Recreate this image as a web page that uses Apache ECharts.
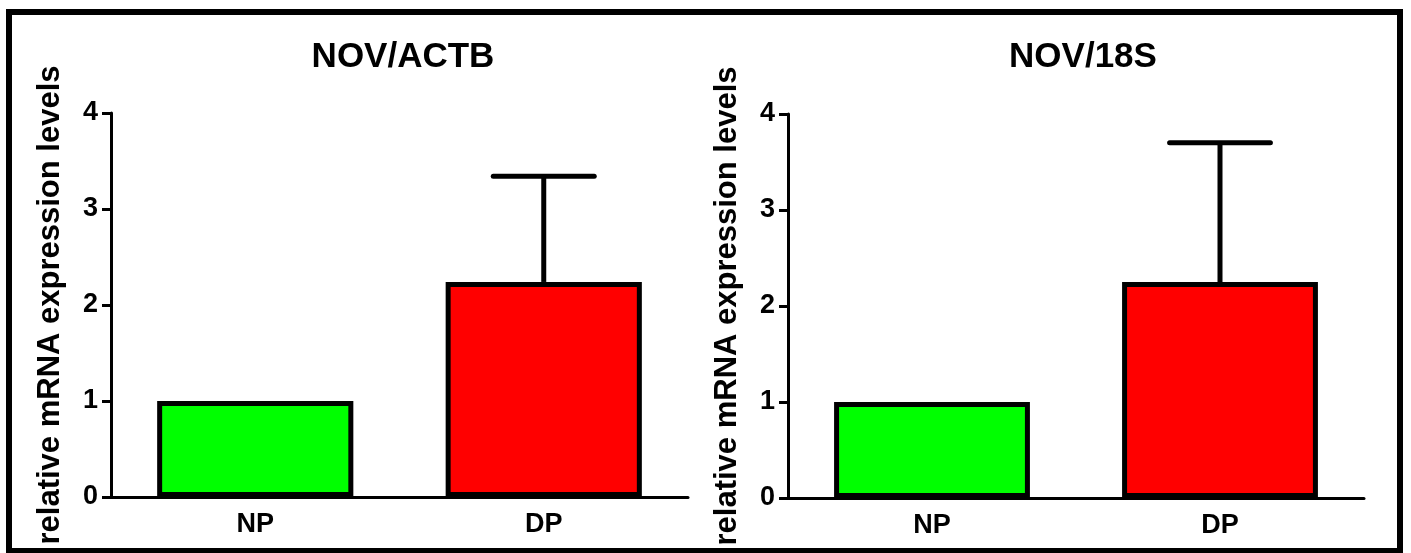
<!DOCTYPE html>
<html>
<head>
<meta charset="utf-8">
<script src="https://cdn.jsdelivr.net/npm/echarts@6/dist/echarts.min.js"></script>
<style>
  html, body { margin: 0; padding: 0; background: #fff; }
  #chart { width: 1411px; height: 553px; }
</style>
</head>
<body>
<div id="chart"></div>
<script>
// categories / values
const categories = ['NP', 'DP'];
const actbMean = [1.0, 2.24];
const actbErr = [0, 1.10];
const s18Mean = [1.0, 2.25];
const s18Err = [0, 1.45];
const titles = ['NOV/ACTB', 'NOV/18S'];
const yName = 'relative mRNA expression levels';
const barColors = ['#00ff00', '#ff0000'];

const font = 'Liberation Sans';

const chart = echarts.init(document.getElementById('chart'));

// one-sided (upper) error bars
const errSeries = (gridIdx, means, errs) => ({
    type: 'custom',
    xAxisIndex: gridIdx,
    yAxisIndex: gridIdx,
    z: 1,
    data: means.map((m, i) => [i, m, m + errs[i]]),
    renderItem: function (params, api) {
        const lo = api.coord([api.value(0), api.value(1)]);
        const hi = api.coord([api.value(0), api.value(2)]);
        if (hi[1] >= lo[1] - 1) return null;
        const half = api.size([1, 0])[0] * 0.175;
        return {
            type: 'group',
            children: [
                { type: 'line', shape: { x1: lo[0], y1: lo[1], x2: hi[0], y2: hi[1] }, style: { stroke: '#000', lineWidth: 5 } },
                { type: 'line', shape: { x1: hi[0] - half, y1: hi[1], x2: hi[0] + half, y2: hi[1] }, style: { stroke: '#000', lineWidth: 5, lineCap: 'round' } }
            ]
        };
    }
});

const barSeries = (gridIdx, means) => ({
    type: 'bar',
    xAxisIndex: gridIdx,
    yAxisIndex: gridIdx,
    z: 2,
    barWidth: '68%',
    data: means.map((v, i) => ({
        value: v,
        itemStyle: { color: barColors[i], borderColor: '#000', borderWidth: 5 }
    }))
});

const xAxis = (gridIdx) => ({
    type: 'category',
    gridIndex: gridIdx,
    data: categories,
    axisLine: { lineStyle: { color: '#000', width: 3 } },
    axisTick: { alignWithLabel: true, length: 10, lineStyle: { color: '#000', width: 3 } },
    axisLabel: { color: '#000', fontSize: 27, fontWeight: 'bold', fontFamily: font, margin: 14 }
});

const yAxis = (gridIdx) => ({
    type: 'value',
    gridIndex: gridIdx,
    min: 0,
    max: 4,
    interval: 1,
    name: yName,
    nameLocation: 'middle',
    nameGap: 45,
    nameTextStyle: { color: '#000', fontSize: 31, fontWeight: 'bold', fontFamily: font },
    axisLine: { show: true, lineStyle: { color: '#000', width: 3 } },
    axisTick: { show: true, length: 9, lineStyle: { color: '#000', width: 3 } },
    axisLabel: {
        show: true, margin: 13,
        formatter: '{n|{value}}',
        rich: { n: { color: '#000', fontSize: 27, fontWeight: 'bold', fontFamily: font } }
    },
    splitLine: { show: false }
});

const option = {
    animation: false,
    backgroundColor: '#fff',
    title: [
        { text: titles[0], left: 398, top: 35, textAlign: 'center',
          textStyle: { color: '#000', fontSize: 35, fontWeight: 'bold', fontFamily: font } },
        { text: titles[1], left: 1078, top: 35, textAlign: 'center',
          textStyle: { color: '#000', fontSize: 35, fontWeight: 'bold', fontFamily: font } }
    ],
    grid: [
        { left: 111, top: 113, width: 577, height: 384 },
        { left: 788, top: 114, width: 576, height: 384 }
    ],
    xAxis: [xAxis(0), xAxis(1)],
    yAxis: [yAxis(0), yAxis(1)],
    series: [
        errSeries(0, actbMean, actbErr),
        barSeries(0, actbMean),
        errSeries(1, s18Mean, s18Err),
        barSeries(1, s18Mean)
    ],
    graphic: [
        {
            type: 'rect',
            z: 100,
            shape: { x: 9, y: 12, width: 1391, height: 539 },
            style: { fill: null, stroke: '#000', lineWidth: 6 }
        }
    ]
};

chart.setOption(option);
</script>
</body>
</html>
